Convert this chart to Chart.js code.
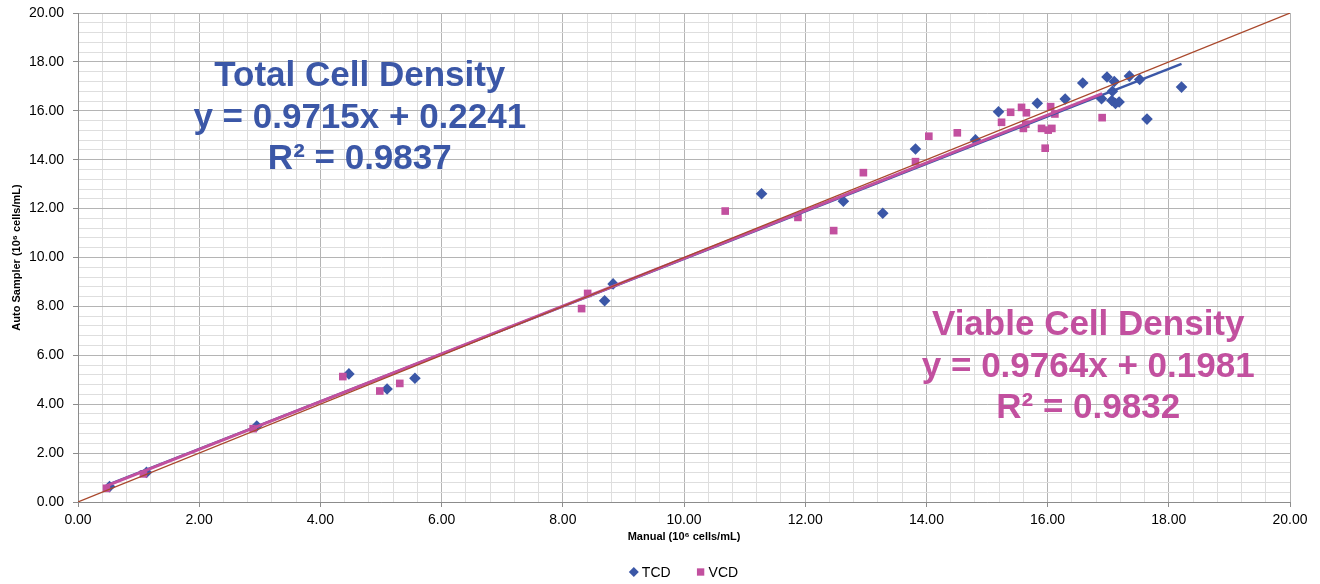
<!DOCTYPE html>
<html>
<head>
<meta charset="utf-8">
<title>TCD / VCD - Auto Sampler vs Manual</title>
<script src="https://cdn.jsdelivr.net/npm/chart.js@4/dist/chart.umd.min.js"></script>
<style>
    html, body { margin: 0; padding: 0; background: #FFFFFF; }
    #chartContainer { width: 1320px; height: 584px; }
</style>
</head>
<body>
<div id="chartContainer">
    <canvas id="chartDensity" width="1320" height="584"></canvas>
</div>
<script>
/* ----------------------------------------------------------------------------
                                     DATA
---------------------------------------------------------------------------- */

// Total cell density (blue diamonds) -----------------------------------------
var tcdManual = [0.52, 1.13, 2.95, 4.47, 5.10, 5.56, 8.69, 8.83, 11.28, 12.63,
                 13.28, 13.82, 14.81, 15.19, 15.83, 16.29, 16.58, 16.89, 16.98, 17.10,
                 17.07, 17.06, 17.12, 17.18, 17.35, 17.52, 17.64, 18.21];
var tcdAuto   = [0.63, 1.21, 3.11, 5.24, 4.62, 5.06, 8.23, 8.92, 12.61, 12.30,
                 11.81, 14.44, 14.81, 15.96, 16.31, 16.48, 17.14, 16.49, 17.38, 17.20,
                 16.80, 16.42, 16.30, 16.36, 17.42, 17.28, 15.66, 16.97];

// Viable cell density (pink squares) -----------------------------------------
var vcdManual = [0.47, 1.08, 2.89, 4.37, 4.98, 5.31, 8.31, 8.41, 10.68, 11.88,
                 12.47, 12.96, 13.82, 14.04, 14.51, 15.24, 15.39, 15.57, 15.65, 15.60,
                 15.64, 15.90, 16.01, 16.07, 16.05, 16.12, 15.96, 16.90];
var vcdAuto   = [0.56, 1.15, 3.00, 5.13, 4.54, 4.85, 7.91, 8.53, 11.90, 11.64,
                 11.10, 13.47, 13.92, 14.96, 15.10, 15.53, 15.94, 16.14, 15.92, 15.28,
                 15.45, 15.28, 15.21, 15.28, 16.17, 15.87, 14.47, 15.72];

// Trend lines (end points) and y = x reference --------------------------------
var tcdFitX = [0.52, 18.21];
var tcdFitY = [0.73, 17.92];
var vcdFitX = [0.47, 16.90];
var vcdFitY = [0.66, 16.70];
var unityX  = [0, 20];
var unityY  = [0, 20];

// Texts ----------------------------------------------------------------------
var seriesNames = Array('TCD', 'VCD');
var tcdLabel = Array('Total Cell Density', 'y = 0.9715x + 0.2241', 'R² = 0.9837');
var vcdLabel = Array('Viable Cell Density', 'y = 0.9764x + 0.1981', 'R² = 0.9832');
var xTitle = 'Manual (10⁶ cells/mL)';
var yTitle = 'Auto Sampler (10⁶ cells/mL)';

// Axis -----------------------------------------------------------------------
var axisMin = 0;
var axisMax = 20;
var gridStep = 0.4;
var labelStep = 2;

// Style ----------------------------------------------------------------------
var colors = Array('#3B57A7', '#C2509F', '#A9482C', '#B4B4B4', '#DEDEDE', '#000000');
var pointStyles = Array('rectRot', 'rect');
var fontFamily = '"Liberation Sans", Arial, Helvetica, sans-serif';

/* ----------------------------------------------------------------------------
                                    MAIN
---------------------------------------------------------------------------- */

function toPoints(xs, ys) {
    var pts = [];
    for (var i = 0; i < xs.length; i++) {
        pts.push({x: xs[i], y: ys[i]});
    }
    return pts;
}

function isMajor(value) {
    var r = value / labelStep;
    return Math.abs(r - Math.round(r)) < 1e-6;
}

function axisOptions(title, tickPad, padTop, padBottom) {
    return {
        type: 'linear',
        min: axisMin,
        max: axisMax,
        border: {
            color: '#8C8C8C',
            width: 1
        },
        grid: {
            color: function(ctx) {
                return isMajor(ctx.tick.value) ? colors[3] : colors[4];
            },
            tickColor: function(ctx) {
                return isMajor(ctx.tick.value) ? '#8C8C8C' : 'rgba(0,0,0,0)';
            },
            lineWidth: 1,
            tickLength: 5
        },
        ticks: {
            stepSize: gridStep,
            autoSkip: false,
            maxRotation: 0,
            padding: tickPad,
            color: colors[5],
            font: { family: fontFamily, size: 14 },
            callback: function(value) {
                return isMajor(value) ? value.toFixed(2) : '';
            }
        },
        title: {
            display: true,
            text: title,
            color: colors[5],
            font: { family: fontFamily, size: 11, weight: 'bold' },
            padding: { top: padTop, bottom: padBottom }
        }
    };
}

// Equation labels drawn on top of the grid ------------------------------------
var equationLabels = {
    id: 'equationLabels',
    afterDraw: function(chart) {
        var ctx = chart.ctx;
        var sx = chart.scales.x;
        var sy = chart.scales.y;
        var blocks = [
            { lines: tcdLabel, color: colors[0], x: 4.65, y: 17.0 },
            { lines: vcdLabel, color: colors[1], x: 16.67, y: 6.83 }
        ];
        ctx.save();
        ctx.font = 'bold 35px ' + fontFamily;
        ctx.textAlign = 'center';
        ctx.textBaseline = 'alphabetic';
        blocks.forEach(function(b) {
            var px = sx.getPixelForValue(b.x);
            var py = sy.getPixelForValue(b.y);
            ctx.fillStyle = b.color;
            for (var i = 0; i < b.lines.length; i++) {
                ctx.fillText(b.lines[i], px, py + i * 41.5);
            }
        });
        ctx.restore();
    }
};

// Legend under the x title (Excel style: marker + name) ----------------------
var bottomLegend = {
    id: 'bottomLegend',
    afterDraw: function(chart) {
        var ctx = chart.ctx;
        var area = chart.chartArea;
        var y = chart.height - 12;
        var gap = 4;
        var spacing = 26;
        var marker = 8;
        ctx.save();
        ctx.font = '14px ' + fontFamily;
        ctx.textBaseline = 'middle';
        ctx.textAlign = 'left';
        var total = 0;
        seriesNames.forEach(function(name, i) {
            total += marker + gap + ctx.measureText(name).width + (i > 0 ? spacing : 0);
        });
        var x = (area.left + area.right) / 2 - total / 2;
        seriesNames.forEach(function(name, i) {
            ctx.fillStyle = colors[i];
            Chart.helpers.drawPoint(ctx, {
                pointStyle: pointStyles[i],
                radius: i === 0 ? 5 : 5.2,
                borderWidth: 0
            }, x + marker / 2, y);
            x += marker + gap;
            ctx.fillStyle = colors[5];
            ctx.fillText(name, x, y + 1);
            x += ctx.measureText(name).width + spacing;
        });
        ctx.restore();
    }
};

const ctx_density = document.getElementById('chartDensity').getContext('2d');

const chartDensity = new Chart(ctx_density, {
    type: 'scatter',
    data: {
        datasets: [
            {
                label: seriesNames[0],
                data: toPoints(tcdManual, tcdAuto),
                pointStyle: pointStyles[0],
                pointRadius: 5.8,
                pointHoverRadius: 5.8,
                backgroundColor: colors[0],
                borderColor: colors[0],
                borderWidth: 0,
                order: 5
            },
            {
                label: seriesNames[1],
                data: toPoints(vcdManual, vcdAuto),
                pointStyle: pointStyles[1],
                pointRadius: 5.4,
                pointHoverRadius: 5.4,
                backgroundColor: colors[1],
                borderColor: colors[1],
                borderWidth: 0,
                order: 4
            },
            {
                label: 'TCD fit',
                data: toPoints(tcdFitX, tcdFitY),
                showLine: true,
                pointRadius: 0,
                borderColor: colors[0],
                borderWidth: 2.5,
                order: 3
            },
            {
                label: 'VCD fit',
                data: toPoints(vcdFitX, vcdFitY),
                showLine: true,
                pointRadius: 0,
                borderColor: colors[1],
                borderWidth: 3,
                order: 2
            },
            {
                label: 'y = x',
                data: toPoints(unityX, unityY),
                showLine: true,
                pointRadius: 0,
                borderColor: colors[2],
                borderWidth: 1.2,
                order: 1
            }
        ]
    },
    options: {
        responsive: false,
        animation: false,
        devicePixelRatio: 1,
        layout: {
            padding: { left: 0, right: 30, top: 13, bottom: 25 }
        },
        plugins: {
            legend: {
                display: false
            },
            tooltip: {
                enabled: false
            }
        },
        scales: {
            x: Object.assign(axisOptions(xTitle, 5, 0, 15), {
                afterFit: function(scale) { scale.height = 57; }
            }),
            y: Object.assign(axisOptions(yTitle, 9, 10, 0), {
                afterFit: function(scale) {
                    scale.width = 78;
                    scale.paddingTop = 8;
                    scale.paddingBottom = 8;
                }
            })
        }
    },
    plugins: [equationLabels, bottomLegend]
});
</script>
</body>
</html>
